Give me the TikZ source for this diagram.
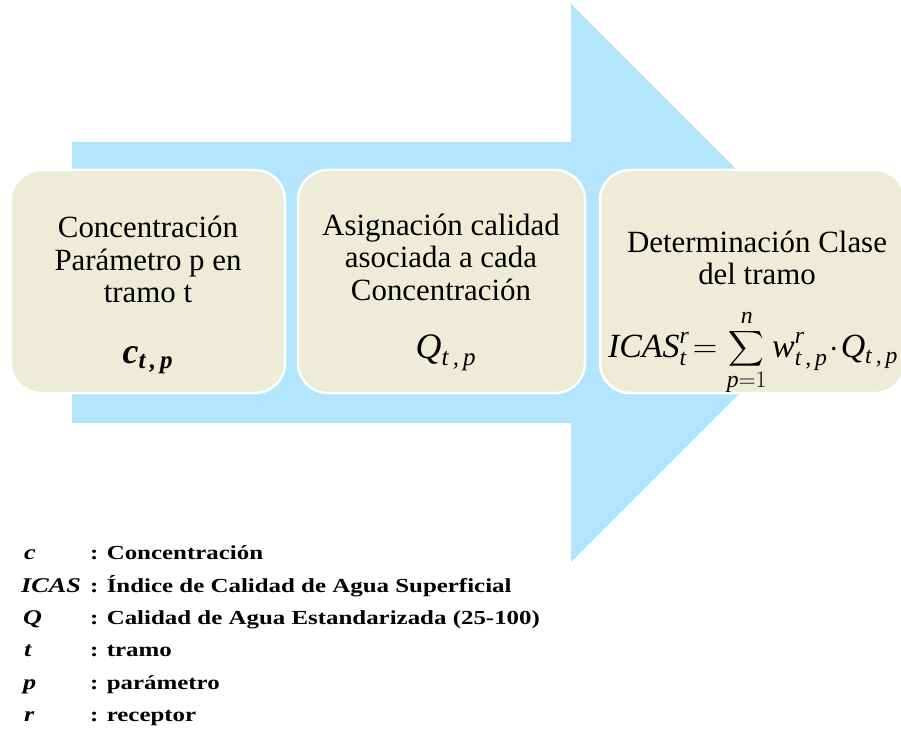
\RequirePackage{fix-cm}
\documentclass[tikz,border=0pt]{standalone}
\usepackage{amsmath}
\usepackage{fontspec}
\setmainfont{Liberation Serif}
\newfontfamily\legendfont[FakeStretch=1.25]{Liberation Serif}

\definecolor{flowblue}{RGB}{179,229,252}
\definecolor{stagecream}{RGB}{236,236,215}

\tikzset{
  stagebox/.style={draw=white, line width=2.5bp, fill=stagecream,
    rounded corners=30bp, inner sep=0pt},
  boxtext/.style={font=\fontsize{31}{33}\selectfont, inner sep=0pt, anchor=base},
  mathtext/.style={font=\fontsize{36}{40}\selectfont, inner sep=0pt, anchor=base},
  formulatext/.style={font=\fontsize{34}{38}\selectfont, inner sep=0pt, anchor=base},
  legendsym/.style={font=\legendfont\bfseries\itshape\fontsize{21}{24}\selectfont,
    inner sep=0pt, anchor=base west},
  legendtext/.style={font=\legendfont\bfseries\fontsize{20}{24}\selectfont,
    inner sep=0pt, anchor=base west}
}

\begin{document}
\begin{tikzpicture}[x=1bp, y=-1bp]
  \clip (0,0) rectangle (901,729);
  \fill[white] (0,0) rectangle (901,729);

  % big process arrow in the background
  \fill[flowblue] (72,142) -- (571,142) -- (571,4) -- (850,283)
    -- (571,562) -- (571,423) -- (72,423) -- cycle;

  % the three stages
  \node[stagebox, minimum width=274bp, minimum height=223bp] (s1) at (148,281.5) {};
  \node[stagebox, minimum width=287bp, minimum height=223bp] (s2) at (441.5,281.5) {};
  \node[stagebox, minimum width=305bp, minimum height=223bp] (s3) at (752.5,281.5) {};

  % stage 1
  \node[boxtext] (s1a) at (148,237) {Concentración};
  \node[boxtext] (s1b) at (148,270) {Parámetro p en};
  \node[boxtext] (s1c) at (148,302) {tramo t};
  \node[mathtext] (s1m) at (148,363)
    {$\textbf{\textit{c}}_{\textbf{\textit{t\,,\,p}}}$};

  % stage 2
  \node[boxtext] (s2a) at (441,235) {Asignación calidad};
  \node[boxtext] (s2b) at (441,267) {asociada a cada};
  \node[boxtext] (s2c) at (441,300) {Concentración};
  \node[mathtext] (s2m) at (446,358)
    {$\textit{Q}_{\textit{t\,,\,p}}$};

  % stage 3
  \node[boxtext] (s3a) at (757,252) {Determinación Clase};
  \node[boxtext] (s3b) at (757,284) {del tramo};
  \node[formulatext] (s3m) at (753,357)
    {$\displaystyle \textit{ICAS}^{\textit{r}}_{\textit{t}}
      \!= \sum_{\textit{p}=1}^{\textit{n}}
      \textit{w}^{\textit{r}}_{\textit{t\,,\,p}} \!\cdot\! \textit{Q}_{\textit{t\,,\,p}}$};

  % legend
  \node[legendsym]  (l1s) at (24,559) {c};
  \node[legendtext] (l1t) at (90,559) {: Concentración};
  \node[legendsym]  (l2s) at (21,592) {ICAS};
  \node[legendtext] (l2t) at (90,592) {: Índice de Calidad de Agua Superficial};
  \node[legendsym]  (l3s) at (23,624) {Q};
  \node[legendtext] (l3t) at (90,624) {: Calidad de Agua Estandarizada (25-100)};
  \node[legendsym]  (l4s) at (24,656) {t};
  \node[legendtext] (l4t) at (90,656) {: tramo};
  \node[legendsym]  (l5s) at (23,689) {p};
  \node[legendtext] (l5t) at (90,689) {: parámetro};
  \node[legendsym]  (l6s) at (24,721) {r};
  \node[legendtext] (l6t) at (90,721) {: receptor};
\end{tikzpicture}
\end{document}
